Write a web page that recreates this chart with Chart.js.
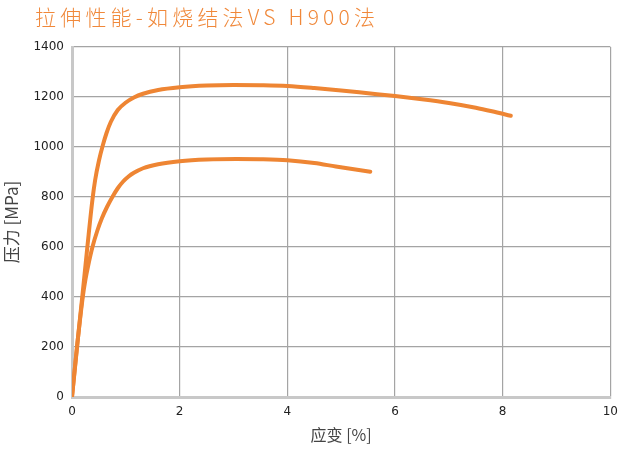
<!DOCTYPE html>
<html>
<head>
<meta charset="utf-8">
<script src="https://cdn.jsdelivr.net/npm/chart.js@4"></script>
<style>
  body { margin: 0; background: #fff; }
  #wrap { position: relative; width: 626px; height: 451px; }
  #title {
    position: absolute; left: 35px; top: 1px;
    font-family: "Noto Sans CJK SC", "Noto Sans", sans-serif;
    font-weight: 300; font-size: 21px; letter-spacing: 4.2px;
    color: #f0883a; white-space: nowrap;
  }
</style>
</head>
<body>
<div id="wrap">
  <div id="title">拉伸性能-如烧结法VS H900法</div>
  <canvas id="chart" width="626" height="451"></canvas>
</div>
<script>
// Curve data (strain %, stress MPa)
const upperStrain = [0, 0.093, 0.2, 0.29, 0.38, 0.43, 0.5, 0.57, 0.64, 0.72, 0.85, 1.0, 1.15, 1.32, 1.6, 2.0, 2.5, 3.0, 3.5, 4.0, 4.5, 5.0, 5.5, 6.0, 6.5, 7.0, 7.5, 7.8, 8.15];
const upperStress = [0, 200, 420, 610, 790, 868, 945, 1005, 1055, 1100, 1148, 1178, 1198, 1213, 1228, 1239, 1246, 1248, 1247, 1244, 1236, 1226, 1215, 1204, 1191, 1176, 1157, 1143, 1125];

const lowerStrain = [0, 0.093, 0.2, 0.25, 0.3, 0.38, 0.47, 0.555, 0.65, 0.75, 0.85, 0.95, 1.05, 1.15, 1.32, 1.6, 2.0, 2.5, 3.05, 3.5, 4.0, 4.5, 4.9, 5.54];
const lowerStress = [0, 200, 400, 470, 525, 600, 665, 715, 760, 800, 835, 862, 882, 897, 915, 931, 943, 950, 952, 951, 947, 936, 922, 901];

// Axis settings
const xTicks = [0, 2, 4, 6, 8, 10];
const yTicks = [0, 200, 400, 600, 800, 1000, 1200, 1400];
const xTitle = '应变 [%]';
const yTitle = '压力 [MPa]';

const lineColor = '#ee8533';

function toPoints(xs, ys) {
  return xs.map((x, i) => ({ x: x, y: ys[i] }));
}

function makeSeries(xs, ys) {
  return {
    data: toPoints(xs, ys),
    showLine: true,
    borderColor: lineColor,
    borderWidth: 4,
    borderCapStyle: 'round',
    borderJoinStyle: 'round',
    pointRadius: 0,
    cubicInterpolationMode: 'monotone',
    fill: false
  };
}

const tickFont = { family: 'DejaVu Sans', size: 12 };

new Chart(document.getElementById('chart').getContext('2d'), {
  type: 'scatter',
  data: {
    datasets: [
      makeSeries(upperStrain, upperStress),
      makeSeries(lowerStrain, lowerStress)
    ]
  },
  options: {
    responsive: false,
    animation: false,
    layout: { padding: { top: 47, right: 14, bottom: 0, left: 0 } },
    plugins: {
      legend: { display: false },
      tooltip: { enabled: false }
    },
    scales: {
      x: {
        type: 'linear',
        min: xTicks[0],
        max: xTicks[xTicks.length - 1],
        afterBuildTicks: s => { s.ticks = xTicks.map(v => ({ value: v })); },
        afterFit: s => { s.height = 54; },
        grid: { color: '#a4a4a4', lineWidth: 1.2, drawTicks: false },
        border: { color: '#c8c8c8', width: 3 },
        ticks: { color: '#222', font: tickFont, padding: 8, maxRotation: 0, callback: v => String(v) },
        title: {
          display: true,
          text: xTitle,
          color: '#444',
          font: { family: 'Noto Sans CJK SC', size: 16 },
          padding: { top: 2, bottom: 6 }
        }
      },
      y: {
        type: 'linear',
        min: yTicks[0],
        max: yTicks[yTicks.length - 1],
        afterBuildTicks: s => { s.ticks = yTicks.map(v => ({ value: v })); },
        afterFit: s => { s.width = 72; },
        grid: { color: '#a4a4a4', lineWidth: 1.2, drawTicks: false },
        border: { color: '#c8c8c8', width: 3 },
        ticks: { color: '#222', font: tickFont, padding: 8, callback: v => String(v) },
        title: {
          display: true,
          text: yTitle,
          color: '#444',
          font: { family: 'Noto Sans CJK SC', size: 17 },
          padding: { top: 1, bottom: 0 }
        }
      }
    }
  }
});
</script>
</body>
</html>
